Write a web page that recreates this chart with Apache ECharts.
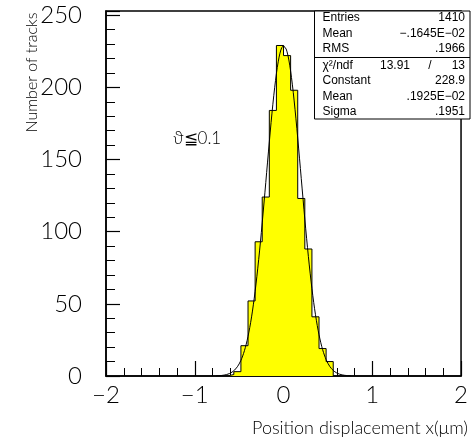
<!DOCTYPE html>
<html>
<head>
<meta charset="utf-8">
<script src="https://cdn.jsdelivr.net/npm/echarts@6/dist/echarts.min.js"></script>
<style>
  html, body { margin: 0; padding: 0; background: #fff; }
  #chart { width: 471px; height: 438px; }
</style>
</head>
<body>
<div id="chart"></div>
<script>
// Position displacement histogram: left edges of the filled 0.08-wide bins and their entries
const binLeftEdges = [-0.64, -0.56, -0.48, -0.40, -0.32, -0.24, -0.16, -0.08, 0.00, 0.08, 0.16, 0.24, 0.32, 0.40, 0.48];
const binWidth = 0.08;
const trackCounts = [1, 3, 21, 52, 93, 124, 184, 229, 222, 198, 123, 88, 41, 19, 10];

// Gaussian fit parameters and the range the fitted function is drawn over
const fitConstant = 228.9;
const fitMean = 0.1925e-2;
const fitSigma = 0.1951;
const fitRange = [-0.76, 0.76];

// Statistics box contents
const statsRows = [['Entries', '1410'], ['Mean', '\u2212.1645E\u221202'], ['RMS', '.1966']];
const chi2Row = ['\u03c7\u00b2/ndf', '13.91', '/', '13'];
const fitRows = [['Constant', '228.9'], ['Mean', '.1925E\u221202'], ['Sigma', '.1951']];

const cutLabel = '\u03d1\u22660.1';
const xTitle = 'Position displacement x(\u03bcm)';
const yTitle = 'Number of tracks';

const FONT = "'Liberation Sans', Arial, sans-serif";
const THIN = "Lato, 'Liberation Sans', sans-serif";

// Step outline of the histogram (turns at the end of each bin)
const histPoints = [[binLeftEdges[0], 0]];
binLeftEdges.forEach((x, i) => histPoints.push([x, trackCounts[i]]));
histPoints.push([binLeftEdges[binLeftEdges.length - 1] + binWidth, 0]);

// Fitted Gaussian evaluated from the fit parameters
const fitPoints = [];
for (let k = 0; k <= Math.round((fitRange[1] - fitRange[0]) / 0.01); k++) {
  const x = fitRange[0] + k * 0.01;
  fitPoints.push([x, fitConstant * Math.exp(-0.5 * Math.pow((x - fitMean) / fitSigma, 2))]);
}

const minus = v => String(v).replace('-', '\u2212');
const yMax = 252.9;

// Statistics box graphic
const boxL = 314.5, boxR = 470, boxT = 11, boxB = 119, divY = 57.5;
const labelX = 322.5, valueX = 465;
const boxChildren = [
  { type: 'rect', shape: { x: boxL, y: boxT, width: boxR - boxL, height: boxB - boxT },
    style: { fill: '#fff', stroke: '#000', lineWidth: 1 } },
  { type: 'line', shape: { x1: boxL, y1: divY, x2: boxR, y2: divY },
    style: { stroke: '#000', lineWidth: 1 } }
];
const txt = (s, x, y, align) => ({
  type: 'text', x: x, y: y,
  style: { text: s, font: '12px ' + FONT, fill: '#000', textAlign: align, textVerticalAlign: 'middle' }
});
const topYs = [18, 33.5, 49];
statsRows.forEach((r, i) => {
  boxChildren.push(txt(r[0], labelX, topYs[i], 'left'));
  boxChildren.push(txt(r[1], valueX, topYs[i], 'right'));
});
const fitYs = [81, 96.5, 112];
boxChildren.push(txt(chi2Row[0], labelX, 65.5, 'left'));
boxChildren.push(txt(chi2Row[1], 410, 65.5, 'right'));
boxChildren.push(txt(chi2Row[2], 430, 65.5, 'center'));
boxChildren.push(txt(chi2Row[3], valueX, 65.5, 'right'));
fitRows.forEach((r, i) => {
  boxChildren.push(txt(r[0], labelX, fitYs[i], 'left'));
  boxChildren.push(txt(r[1], valueX, fitYs[i], 'right'));
});

const chart = echarts.init(document.getElementById('chart'), null, { renderer: 'canvas' });
chart.setOption({
  animation: false,
  backgroundColor: '#fff',
  grid: { left: 106, right: 0, top: 11, bottom: 62, show: true, borderColor: '#000', borderWidth: 1.5,
          backgroundColor: 'transparent' },
  xAxis: {
    type: 'value', min: -2, max: 2, interval: 1,
    axisLine: { onZero: false, lineStyle: { color: '#000', width: 1.5 } },
    axisTick: { inside: true, length: 15, lineStyle: { color: '#000', width: 1.2 } },
    minorTick: { show: true, splitNumber: 5, length: 8, lineStyle: { color: '#000', width: 1 } },
    splitLine: { show: false },
    axisLabel: { fontFamily: THIN, fontWeight: 300, fontSize: 24, color: '#000', margin: 7, formatter: minus }
  },
  yAxis: [
    {
      type: 'value', min: 0, max: yMax, interval: 50, position: 'left',
      axisLine: { show: true, onZero: false, lineStyle: { color: '#000', width: 1.5 } },
      axisTick: { show: true, inside: true, length: 14, lineStyle: { color: '#000', width: 1.2 } },
      splitLine: { show: false },
      axisLabel: { fontFamily: THIN, fontWeight: 300, fontSize: 24, color: '#000', margin: 24,
                   formatter: v => (v % 50 === 0 ? String(v) : '') }
    },
    {
      type: 'value', min: 0, max: yMax, interval: 10, position: 'left', offset: 0,
      axisLine: { show: false, onZero: false },
      axisTick: { show: true, inside: true, length: 9, lineStyle: { color: '#000', width: 1 } },
      splitLine: { show: false },
      axisLabel: { show: false }
    }
  ],
  series: [
    {
      type: 'line', step: 'end', data: histPoints, symbol: 'none', silent: true, z: 2,
      lineStyle: { color: '#000', width: 1 },
      areaStyle: { color: '#ffff00', opacity: 1 }
    },
    {
      type: 'line', data: fitPoints, symbol: 'none', silent: true, z: 3,
      lineStyle: { color: '#000', width: 1 }
    }
  ],
  graphic: [
    { type: 'group', z: 10, children: boxChildren },
    { type: 'text', x: 173, y: 139, z: 10,
      style: { text: cutLabel, font: '300 17px ' + THIN, fill: '#000', textAlign: 'left', textVerticalAlign: 'middle' } },
    { type: 'text', x: 468, y: 428, z: 10,
      style: { text: xTitle, font: '300 18px ' + THIN, fill: '#000', textAlign: 'right', textVerticalAlign: 'middle' } },
    { type: 'text', x: 32, y: 72.5, rotation: Math.PI / 2, z: 10,
      style: { text: yTitle, font: '300 16px ' + THIN, fill: '#000', textAlign: 'center', textVerticalAlign: 'middle' } }
  ]
});
</script>
</body>
</html>
